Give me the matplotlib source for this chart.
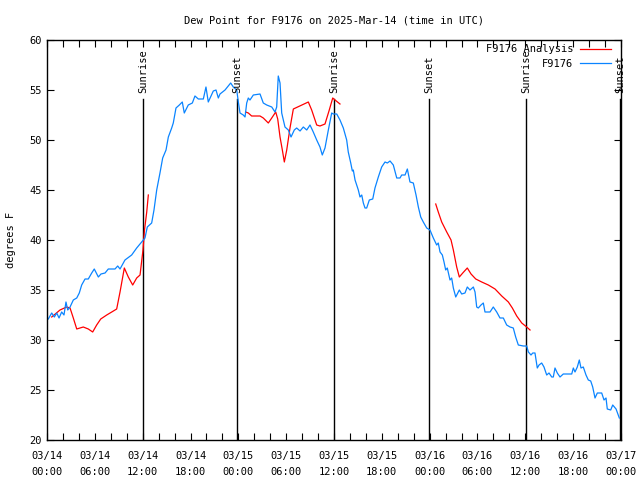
import numpy as np
import matplotlib
matplotlib.use('Agg')
import matplotlib.pyplot as plt
from matplotlib.ticker import MultipleLocator

# hours since 2025-03-14 00:00 UTC, dew point in F
obs_hours = [0.16, 0.59, 0.92, 1.22, 1.51, 1.84, 2.13, 2.38, 2.60, 2.89, 3.30, 3.73, 4.05, 4.35,
             4.77, 5.18, 5.61, 5.93, 6.44, 6.77, 7.28, 7.69, 8.53, 8.87, 9.16, 9.78, 10.62, 11.25,
             11.88, 12.29, 12.58, 13.13, 13.42, 13.76, 14.17, 14.51, 14.93, 15.22, 15.64, 15.84,
             16.18, 16.60, 16.97, 17.22, 17.72, 18.23, 18.56, 18.98, 19.61, 19.94, 20.23, 20.86,
             21.20, 21.49, 21.70, 22.33, 22.74, 23.04, 23.37, 23.80, 24.00, 24.21, 24.62, 24.84,
             25.05, 25.25, 25.46, 25.88, 26.72, 27.13, 27.56, 28.19, 28.60, 28.81, 29.01, 29.23,
             29.44, 29.85, 30.27, 30.61, 31.02, 31.32, 31.74, 32.15, 32.58, 32.99, 33.40, 33.83,
             34.24, 34.53, 34.87, 35.29, 35.71, 35.91, 36.34, 36.75, 37.17, 37.59, 37.79, 38.10,
             38.30, 38.42, 38.64, 39.05, 39.26, 39.48, 39.68, 39.89, 40.10, 40.43, 40.86, 41.14,
             41.56, 41.98, 42.40, 42.69, 43.03, 43.44, 43.87, 44.28, 44.49, 44.91, 45.20, 45.53,
             45.95, 46.29, 46.58, 46.88, 47.20, 47.63, 48.04, 48.46, 48.88, 49.08, 49.30, 49.59,
             49.80, 50.01, 50.21, 50.55, 50.76, 50.97, 51.27, 51.52, 51.72, 52.02, 52.43, 52.72,
             53.06, 53.48, 53.69, 53.90, 54.10, 54.44, 54.73, 54.94, 55.57, 55.98, 56.41, 56.82,
             57.24, 57.66, 58.08, 58.49, 58.79, 59.12, 59.75, 60.17, 60.38, 60.71, 60.93, 61.21,
             61.50, 61.72, 62.05, 62.34, 62.68, 62.97, 63.31, 63.51, 63.72, 64.01, 64.35, 64.76,
             65.82, 66.02, 66.23, 66.52, 66.77, 66.98, 67.27, 67.61, 67.90, 68.20, 68.45, 68.74,
             69.03, 69.58, 69.87, 70.12, 70.28, 70.71, 70.96, 71.38, 71.79]
obs_dew = [32.1, 32.7, 32.3, 32.7, 32.2, 32.8, 32.5, 33.8, 33.0, 33.3, 34.0, 34.2, 34.7, 35.5,
           36.1, 36.1, 36.7, 37.1, 36.3, 36.6, 36.7, 37.1, 37.1, 37.4, 37.1, 38.0, 38.5, 39.2,
           39.8, 40.2, 41.3, 41.7, 43.0, 45.0, 46.7, 48.2, 49.0, 50.3, 51.2, 51.7,
           53.2, 53.5, 53.8, 52.7, 53.5, 53.7, 54.4, 54.1, 54.1, 55.3, 53.8, 54.9,
           55.0, 54.2, 54.6, 55.0, 55.4, 55.7, 55.3, 55.0, 53.8, 52.7, 52.5, 52.3,
           53.7, 54.2, 54.0, 54.5, 54.6, 53.7, 53.5, 53.3, 52.8, 53.3, 56.4, 55.7,
           52.7, 51.3, 51.0, 50.3, 51.0, 51.2, 50.9, 51.3, 51.0, 51.5, 50.8, 50.0,
           49.3, 48.5, 49.2, 51.0, 52.7, 52.6, 52.6, 52.0, 51.2, 50.0, 48.8, 47.7,
           46.9, 47.0, 46.0, 45.0, 44.3, 44.5, 43.7, 43.2, 43.2, 44.0, 44.1, 45.2,
           46.3, 47.3, 47.8, 47.7, 47.9, 47.5, 46.2, 46.2, 46.5, 46.5, 47.1, 45.8,
           45.7, 44.5, 43.3, 42.3, 41.8, 41.2, 41.0, 40.2, 39.5, 39.7, 38.8, 38.5,
           37.8, 37.0, 37.2, 36.0, 36.2, 35.2, 34.3, 34.7, 35.0, 34.6, 34.7, 35.3,
           35.0, 35.3, 34.8, 33.3, 33.2, 33.5, 33.7, 32.8, 32.8, 33.3, 32.8, 32.2,
           32.2, 31.5, 31.3, 31.2, 30.3, 29.5, 29.4, 29.4, 28.8, 28.5, 28.7, 28.7,
           27.2, 27.5, 27.7, 27.3, 26.5, 26.7, 26.3, 26.3, 27.2, 26.7, 26.3, 26.6,
           26.6, 27.2, 26.8, 27.3, 28.0, 27.2, 27.3, 26.5, 26.0, 25.9, 25.3, 24.2,
           24.7, 24.7, 24.0, 24.2, 23.1, 23.0, 23.5, 23.1, 22.2]

# analysis, three separate runs
ana1_hours = [0.59, 1.63, 2.47, 2.89, 3.30, 3.73, 4.55, 5.18, 5.73, 6.23, 6.74, 7.49, 8.12,
              8.74, 9.16, 9.70, 10.20, 10.75, 11.25, 11.67, 12.04, 12.23, 12.51, 12.71]
ana1_dew = [32.3, 33.0, 33.3, 33.2, 32.2, 31.1, 31.3, 31.1, 30.8, 31.5, 32.1, 32.5, 32.8,
            33.1, 34.8, 37.2, 36.3, 35.5, 36.2, 36.5, 39.0, 41.0, 42.8, 44.5]
ana2_hours = [24.92, 25.25, 25.67, 26.72, 27.13, 27.76, 28.19, 28.69, 28.94, 29.23, 29.52,
              29.77, 30.07, 30.48, 30.90, 32.78, 33.20, 33.83, 34.24, 34.87, 35.37, 35.84,
              36.13, 36.75]
ana2_dew = [52.8, 52.7, 52.4, 52.4, 52.2, 51.7, 52.2, 52.8, 52.1, 50.3, 49.0,
            47.8, 49.0, 51.2, 53.1, 53.8, 53.0, 51.5, 51.4, 51.6, 52.9, 54.2,
            54.0, 53.6]
ana3_hours = [48.76, 49.08, 49.51, 50.14, 50.68, 50.97, 51.39, 51.72, 52.15, 52.72, 53.19,
              53.78, 54.53, 55.36, 56.20, 57.04, 57.87, 58.37, 58.92, 59.55, 60.17, 60.59]
ana3_dew = [43.6, 42.8, 41.8, 40.8, 40.0, 39.0, 37.3, 36.3, 36.7, 37.2, 36.6,
            36.1, 35.8, 35.5, 35.1, 34.4, 33.8, 33.2, 32.4, 31.7, 31.3, 31.0]

sun_hours = [12.04, 23.84, 36.0, 47.9, 60.1, 71.9]
sun_labels = ['Sunrise', 'Sunset', 'Sunrise', 'Sunset', 'Sunrise', 'Sunset']

tick_labels = ['03/14\n00:00', '03/14\n06:00', '03/14\n12:00', '03/14\n18:00',
               '03/15\n00:00', '03/15\n06:00', '03/15\n12:00', '03/15\n18:00',
               '03/16\n00:00', '03/16\n06:00', '03/16\n12:00', '03/16\n18:00', '03/17\n00:00']

plt.rcParams['font.family'] = 'DejaVu Sans Mono'
fs = 7.5

fig = plt.figure(figsize=(6.4, 4.8), dpi=100)
ax = fig.add_axes([47 / 640, 40 / 480, 574 / 640, 400 / 480])

red = '#ff0000'
blue = '#0a84ff'

# sunrise / sunset markers
for h, lab in zip(sun_hours, sun_labels):
    ax.plot([h, h], [20, 54.1], color='black', linewidth=1.0)
    ax.text(h, 54.7, lab, rotation=90, ha='center', va='bottom', fontsize=fs)

ax.plot(ana1_hours, ana1_dew, color=red, linewidth=0.9, label='F9176 Analysis')
ax.plot(ana2_hours, ana2_dew, color=red, linewidth=0.9)
ax.plot(ana3_hours, ana3_dew, color=red, linewidth=0.9)
ax.plot(obs_hours, obs_dew, color=blue, linewidth=0.9, label='F9176')

ax.set_xlim(0, 72)
ax.set_ylim(20, 60)
ax.set_xticks(np.arange(0, 73, 6))
ax.set_xticklabels(tick_labels, fontsize=fs, linespacing=1.7)
ax.xaxis.set_minor_locator(MultipleLocator(2))
ax.set_yticks(np.arange(20, 61, 5))
ax.tick_params(axis='y', labelsize=fs)
ax.tick_params(axis='x', pad=8)
ax.tick_params(which='both', direction='in', top=True, right=True, length=5, width=0.8)
for s in ax.spines.values():
    s.set_linewidth(1.0)

ax.set_ylabel('degrees F', fontsize=fs, labelpad=10)
ax.set_title('Dew Point for F9176 on 2025-Mar-14 (time in UTC)', fontsize=fs, pad=12)

ax.legend(loc='upper right', frameon=False, fontsize=fs, markerfirst=False,
          handlelength=3.0, borderaxespad=0.0, labelspacing=0.45, handletextpad=0.6,
          bbox_to_anchor=(0.99, 1.0))

fig.savefig('out.png', dpi=100)
